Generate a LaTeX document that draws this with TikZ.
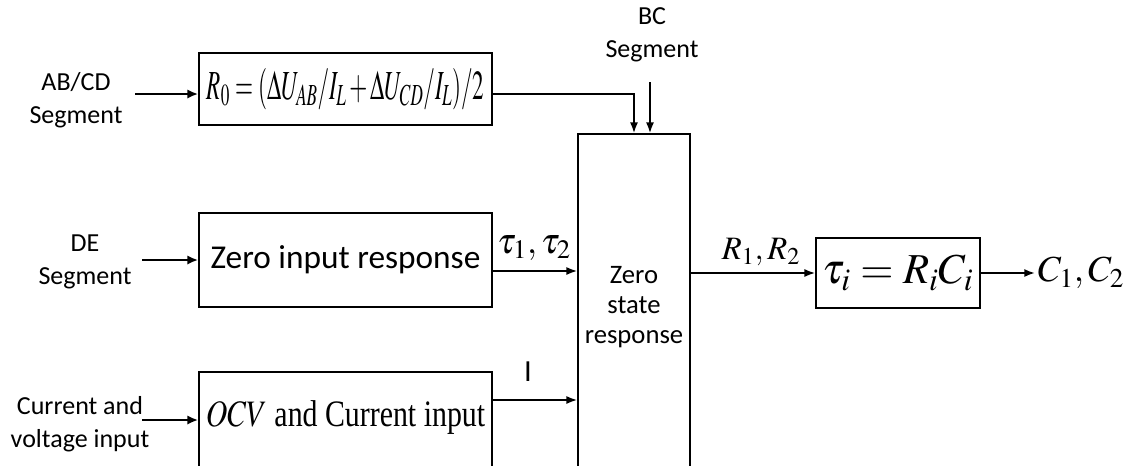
\documentclass[tikz,border=0pt]{standalone}
\usepackage{amsmath,amssymb}
\usepackage{mathptmx}
\usepackage{fontspec}
\setmainfont{Carlito}
\newfontfamily\tms{Liberation Serif}
\usetikzlibrary{positioning,arrows.meta}

\begin{document}
\begin{tikzpicture}[x=0.75pt, y=-0.75pt,
  blk/.style={draw, line width=1.3pt, rectangle, inner sep=0pt},
  lbl/.style={align=center, font=\fontsize{19.5}{25}\selectfont, inner sep=1pt},
  arr/.style={-{Latex[length=8pt,width=6pt]}, line width=1.3pt},
  inarr/.style={-{Latex[length=8pt,width=7pt]}, line width=2pt}]
\useasboundingbox (0,0) rectangle (1131,465);
\clip (0,0) rectangle (1131,465);

% blocks
\node[blk, minimum width=219.75pt, minimum height=54pt] (r0) at (345.5,89)
  {\scalebox{0.56}[1]{\fontsize{31}{34}\selectfont $R_0 = (\Delta U_{AB}/I_L + \Delta U_{CD}/I_L)/2$}};
\node[blk, minimum width=219.75pt, minimum height=70.5pt] (zir) at (345.5,260)
  {\fontsize{25}{28}\selectfont Zero input response};
\node[blk, minimum width=219.75pt, minimum height=141pt] (ocv) at (345.5,466) {};
\node (ocvt) at (345.5,418)
  {\scalebox{0.8}[1]{\fontsize{28}{30}\selectfont\tms $OCV$ and Current input}};
\node[blk, minimum width=84pt, minimum height=319.5pt] (zsr) at (634,347) {};
\node[align=center, font=\fontsize{20}{22.5}\selectfont] (zsrt) at (634,307) {Zero\\state\\response};
\node[blk, minimum width=123pt, minimum height=52.5pt] (tau) at (898,273)
  {\fontsize{32}{34}\selectfont $\tau_i = R_i C_i$};

% inputs
\node[lbl] (ab) at (76,100) {AB/CD\\Segment};
\node[lbl] (de) at (85,262) {DE\\Segment};
\node[lbl] (cv) at (80,424) {Current and\\voltage input};
\node[lbl] (bc) at (652,35) {BC\\Segment};
\coordinate (abin) at (135,94);
\coordinate (dein) at (142,260);
\coordinate (cvin) at (142,420);
\coordinate (bcin) at (650,82);

\draw[inarr] (abin) -- (abin -| r0.west);
\draw[inarr] (dein) -- (dein -| zir.west);
\draw[inarr] (cvin) -- (cvin -| ocv.west);

% signals
\draw[arr] (r0.east |- abin) -| (zsr.north);
\draw[arr] (bcin) -- (bcin |- zsr.north);
\draw[arr] (zir.east |- 0,271) -- (zsr.west |- 0,271);
\node[inner sep=0pt, font=\fontsize{27}{30}\selectfont] (t12) at (534,248) {$\tau_1, \tau_2$};
\draw[arr] (ocv.east |- 0,400) -- (zsr.west |- 0,400);
\node[font=\fontsize{23}{26}\selectfont] (ilbl) at (528,372) {I};
\draw[arr] (zsr.east |- tau.west) -- (tau.west);
\node[inner sep=0pt, font=\fontsize{24.5}{27}\selectfont] (r12) at (761,252) {$R_1, R_2$};
\node[inner sep=2pt, font=\fontsize{27.5}{30}\selectfont] (c12) at (1081,273) {$C_1, C_2$};
\draw[arr] (tau.east) -- (c12.west);
\end{tikzpicture}
\end{document}
